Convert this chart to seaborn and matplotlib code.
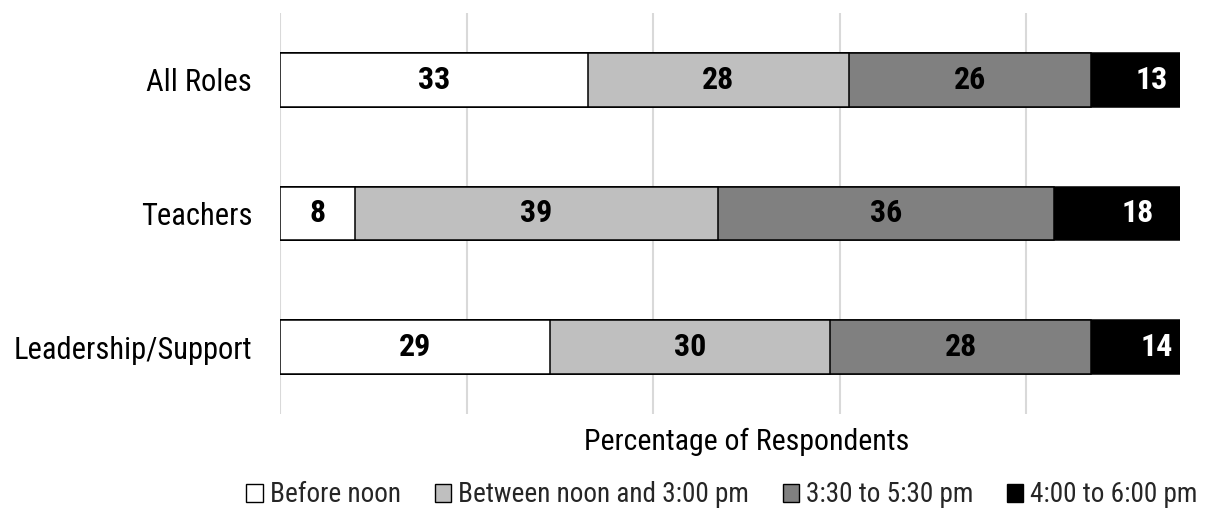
import matplotlib
matplotlib.use("Agg")
import matplotlib.pyplot as plt
from matplotlib import font_manager
from matplotlib.patches import Patch
import numpy as np
import pandas as pd
import seaborn as sns

# Survey data: share of respondents per preferred time slot
roles = ["All Roles", "Teachers", "Leadership/Support"]
series = ["Before noon", "Between noon and 3:00 pm", "3:30 to 5:30 pm", "4:00 to 6:00 pm"]
before_noon = [33, 8, 29]
noon_to_3 = [28, 39, 30]
from_330_to_530 = [26, 36, 28]
from_4_to_6 = [13, 18, 14]
colors = ["#FFFFFF", "#BFBFBF", "#808080", "#000000"]
label_colors = ["black", "black", "black", "white"]

sns.set_theme(style="white")

# pick a narrow sans face if one is installed
names = {f.name for f in font_manager.fontManager.ttflist}
family = "Roboto"
for cand in ["Liberation Sans Narrow", "DejaVu Sans Condensed", "Roboto Condensed", "Open Sans Condensed"]:
    if cand in names:
        family = cand
        break
plt.rcParams["font.family"] = [family, "DejaVu Sans"]

values = [before_noon, noon_to_3, from_330_to_530, from_4_to_6]
df = pd.DataFrame({"role": roles})
for name, vals in zip(series, values):
    df[name] = vals
cum = np.cumsum(np.array(values), axis=0)

fig = plt.figure(figsize=(12.08, 5.27), dpi=100)
ax = fig.add_axes([280 / 1208, 1 - 414 / 527, 900 / 1208, 401 / 527])

# stacked bars: draw cumulative totals from the widest down
for i in range(len(series) - 1, -1, -1):
    sns.barplot(x=cum[i], y=roles, orient="h", color=colors[i], edgecolor="black",
                linewidth=1.1, width=0.4, saturation=1, ax=ax, zorder=3)

for i, name in enumerate(series):
    for j, role in enumerate(roles):
        v = values[i][j]
        start = cum[i][j] - v
        ax.text(start + v / 2, j, f"{v}", ha="center", va="center", fontsize=23,
                fontweight="bold", color=label_colors[i], zorder=5)

ax.set_xlim(0, 96.5)
ax.set_ylim(2.5, -0.5)
ax.set_xticks([0, 20, 40, 60, 80])
ax.set_xticklabels([])
ax.grid(axis="x", color="#D9D9D9", linewidth=1.5, zorder=0)
ax.tick_params(axis="both", length=0)
ax.tick_params(axis="y", labelsize=22, pad=20, labelcolor="black")
for s in ax.spines.values():
    s.set_visible(False)
ax.set_ylabel("")
ax.set_xlabel("Percentage of Respondents", fontsize=21.5, color="black")
ax.xaxis.set_label_coords(0.518, -0.035)

handles = [Patch(facecolor=c, edgecolor="black", linewidth=1.0) for c in colors]
fig.legend(handles, series, loc="center", bbox_to_anchor=(722 / 1208, 1 - 495 / 527),
           ncol=4, frameon=False, fontsize=19.6, handlelength=0.6, handleheight=0.6,
           handletextpad=0.25, columnspacing=1.25, borderpad=0.2)

fig.savefig("out.png", dpi=100)
